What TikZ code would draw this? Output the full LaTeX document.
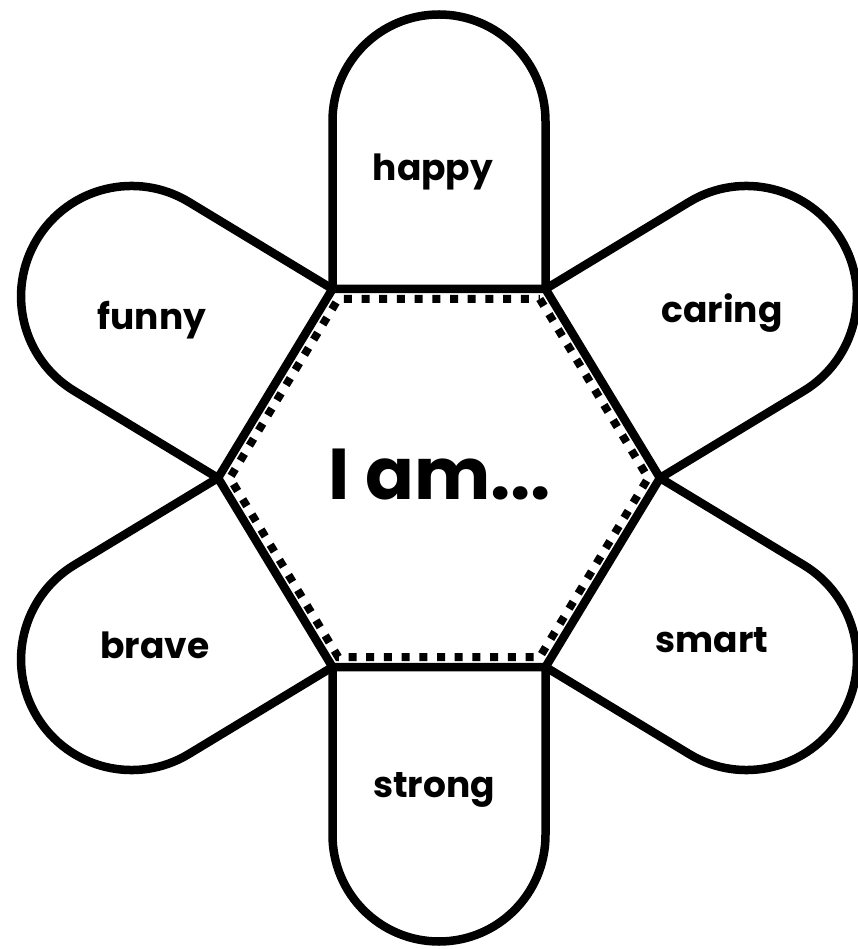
\documentclass[tikz,border=0pt]{standalone}
\usepackage{fontspec}
\setmainfont{Poppins}
\begin{document}
\begin{tikzpicture}[x=1pt,y=1pt,
  petal/.style={draw=black,fill=white,line width=8.5pt,line join=miter},
  dots/.style={draw=black,line width=8pt,dash pattern=on 8pt off 9.7pt},
  word/.style={font=\fontsize{36}{36}\selectfont\bfseries,inner sep=0pt},
  title/.style={font=\fontsize{72}{72}\selectfont\bfseries,inner sep=0pt}]
\useasboundingbox[fill=white] (-439,-471) rectangle (418,478);
\def\len{168}
% petals: midpoint x, midpoint y, normal angle, half width
\foreach \mx/\my/\ang/\hw in {0/189/90/106.5, 163.75/94.5/31.2/110.5, 163.75/-94.5/-31.2/110.5,
                               0/-189/-90/106.5, -163.75/-94.5/211.2/110.5, -163.75/94.5/148.8/110.5}{
  \begin{scope}[shift={(\mx,\my)},rotate=\ang-90]
    \draw[petal] (-\hw,0) -- (-\hw,\len) arc[start angle=180,end angle=0,radius=\hw] -- (\hw,0) -- cycle;
  \end{scope}
}
\draw[dots] (100.8,179) -- (209.2,0) -- (100.8,-179) -- (-100.8,-179) -- (-209.2,0) -- (-100.8,179) -- cycle;
\node[word] (happy) at (-6,306) {happy};
\node[word] (funny) at (-287,158) {funny};
\node[word] (caring) at (283,165) {caring};
\node[word] (brave) at (-284,-167) {brave};
\node[word] (smart) at (273,-162) {smart};
\node[word] (strong) at (-5,-312) {strong};
\node[title] (iam) at (1,3) {I am...};
\end{tikzpicture}
\end{document}
